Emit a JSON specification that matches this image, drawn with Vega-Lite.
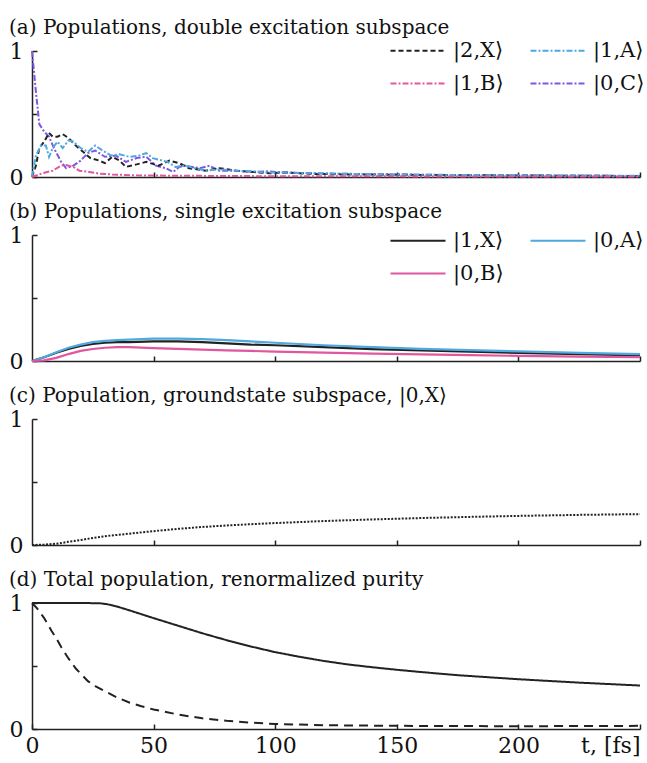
{
  "$schema": "https://vega.github.io/schema/vega-lite/v6.json",
  "padding": {"left": 9, "top": 18, "right": 2, "bottom": 2},
  "background": "white",
  "datasets": {
    "a": [
      {"t": 0, "v": 1.0, "s": "|0,C⟩"}, {"t": 1.6, "v": 0.68, "s": "|0,C⟩"}, {"t": 3, "v": 0.42, "s": "|0,C⟩"}, {"t": 5, "v": 0.36, "s": "|0,C⟩"}, {"t": 7, "v": 0.32, "s": "|0,C⟩"}, {"t": 9, "v": 0.23, "s": "|0,C⟩"}, {"t": 12, "v": 0.12, "s": "|0,C⟩"}, {"t": 14, "v": 0.07, "s": "|0,C⟩"}, {"t": 17, "v": 0.09, "s": "|0,C⟩"}, {"t": 20, "v": 0.13, "s": "|0,C⟩"}, {"t": 23, "v": 0.19, "s": "|0,C⟩"}, {"t": 26, "v": 0.21, "s": "|0,C⟩"}, {"t": 30, "v": 0.16, "s": "|0,C⟩"}, {"t": 34.5, "v": 0.17, "s": "|0,C⟩"}, {"t": 38.6, "v": 0.12, "s": "|0,C⟩"}, {"t": 43, "v": 0.15, "s": "|0,C⟩"}, {"t": 47, "v": 0.16, "s": "|0,C⟩"}, {"t": 51, "v": 0.09, "s": "|0,C⟩"}, {"t": 55, "v": 0.07, "s": "|0,C⟩"}, {"t": 58, "v": 0.04, "s": "|0,C⟩"}, {"t": 60.5, "v": 0.08, "s": "|0,C⟩"}, {"t": 63, "v": 0.09, "s": "|0,C⟩"}, {"t": 69, "v": 0.07, "s": "|0,C⟩"}, {"t": 73, "v": 0.09, "s": "|0,C⟩"}, {"t": 77, "v": 0.05, "s": "|0,C⟩"}, {"t": 84, "v": 0.05, "s": "|0,C⟩"}, {"t": 91, "v": 0.04, "s": "|0,C⟩"}, {"t": 96, "v": 0.045, "s": "|0,C⟩"}, {"t": 105, "v": 0.035, "s": "|0,C⟩"}, {"t": 115, "v": 0.03, "s": "|0,C⟩"}, {"t": 130, "v": 0.025, "s": "|0,C⟩"}, {"t": 150, "v": 0.02, "s": "|0,C⟩"}, {"t": 175, "v": 0.015, "s": "|0,C⟩"}, {"t": 200, "v": 0.012, "s": "|0,C⟩"}, {"t": 225, "v": 0.01, "s": "|0,C⟩"}, {"t": 250, "v": 0.008, "s": "|0,C⟩"},
      {"t": 0, "v": 0, "s": "|2,X⟩"}, {"t": 1.6, "v": 0.09, "s": "|2,X⟩"}, {"t": 3, "v": 0.23, "s": "|2,X⟩"}, {"t": 5, "v": 0.28, "s": "|2,X⟩"}, {"t": 7, "v": 0.35, "s": "|2,X⟩"}, {"t": 8.5, "v": 0.32, "s": "|2,X⟩"}, {"t": 10.5, "v": 0.32, "s": "|2,X⟩"}, {"t": 12.6, "v": 0.34, "s": "|2,X⟩"}, {"t": 15, "v": 0.31, "s": "|2,X⟩"}, {"t": 18, "v": 0.25, "s": "|2,X⟩"}, {"t": 21, "v": 0.2, "s": "|2,X⟩"}, {"t": 24, "v": 0.15, "s": "|2,X⟩"}, {"t": 27.7, "v": 0.13, "s": "|2,X⟩"}, {"t": 30, "v": 0.11, "s": "|2,X⟩"}, {"t": 33, "v": 0.16, "s": "|2,X⟩"}, {"t": 36, "v": 0.13, "s": "|2,X⟩"}, {"t": 38.6, "v": 0.08, "s": "|2,X⟩"}, {"t": 43, "v": 0.1, "s": "|2,X⟩"}, {"t": 47, "v": 0.12, "s": "|2,X⟩"}, {"t": 52, "v": 0.09, "s": "|2,X⟩"}, {"t": 56.5, "v": 0.13, "s": "|2,X⟩"}, {"t": 60.5, "v": 0.11, "s": "|2,X⟩"}, {"t": 64.6, "v": 0.07, "s": "|2,X⟩"}, {"t": 71.5, "v": 0.05, "s": "|2,X⟩"}, {"t": 77, "v": 0.07, "s": "|2,X⟩"}, {"t": 84, "v": 0.05, "s": "|2,X⟩"}, {"t": 91, "v": 0.04, "s": "|2,X⟩"}, {"t": 97.5, "v": 0.03, "s": "|2,X⟩"}, {"t": 105, "v": 0.035, "s": "|2,X⟩"}, {"t": 115, "v": 0.025, "s": "|2,X⟩"}, {"t": 130, "v": 0.02, "s": "|2,X⟩"}, {"t": 150, "v": 0.018, "s": "|2,X⟩"}, {"t": 175, "v": 0.014, "s": "|2,X⟩"}, {"t": 200, "v": 0.012, "s": "|2,X⟩"}, {"t": 225, "v": 0.01, "s": "|2,X⟩"}, {"t": 250, "v": 0.008, "s": "|2,X⟩"},
      {"t": 0, "v": 0, "s": "|1,A⟩"}, {"t": 1.6, "v": 0.17, "s": "|1,A⟩"}, {"t": 3.7, "v": 0.25, "s": "|1,A⟩"}, {"t": 5.7, "v": 0.25, "s": "|1,A⟩"}, {"t": 7, "v": 0.16, "s": "|1,A⟩"}, {"t": 8.5, "v": 0.23, "s": "|1,A⟩"}, {"t": 10.5, "v": 0.28, "s": "|1,A⟩"}, {"t": 12.6, "v": 0.23, "s": "|1,A⟩"}, {"t": 15, "v": 0.29, "s": "|1,A⟩"}, {"t": 17, "v": 0.28, "s": "|1,A⟩"}, {"t": 20, "v": 0.23, "s": "|1,A⟩"}, {"t": 23, "v": 0.2, "s": "|1,A⟩"}, {"t": 26, "v": 0.25, "s": "|1,A⟩"}, {"t": 29, "v": 0.21, "s": "|1,A⟩"}, {"t": 32.5, "v": 0.17, "s": "|1,A⟩"}, {"t": 36, "v": 0.18, "s": "|1,A⟩"}, {"t": 40, "v": 0.16, "s": "|1,A⟩"}, {"t": 44, "v": 0.17, "s": "|1,A⟩"}, {"t": 47, "v": 0.19, "s": "|1,A⟩"}, {"t": 49.6, "v": 0.15, "s": "|1,A⟩"}, {"t": 53.7, "v": 0.13, "s": "|1,A⟩"}, {"t": 55.7, "v": 0.12, "s": "|1,A⟩"}, {"t": 59, "v": 0.08, "s": "|1,A⟩"}, {"t": 63, "v": 0.09, "s": "|1,A⟩"}, {"t": 67, "v": 0.07, "s": "|1,A⟩"}, {"t": 71.5, "v": 0.05, "s": "|1,A⟩"}, {"t": 77, "v": 0.06, "s": "|1,A⟩"}, {"t": 84, "v": 0.05, "s": "|1,A⟩"}, {"t": 91, "v": 0.045, "s": "|1,A⟩"}, {"t": 97.5, "v": 0.035, "s": "|1,A⟩"}, {"t": 105, "v": 0.035, "s": "|1,A⟩"}, {"t": 115, "v": 0.03, "s": "|1,A⟩"}, {"t": 130, "v": 0.025, "s": "|1,A⟩"}, {"t": 150, "v": 0.02, "s": "|1,A⟩"}, {"t": 175, "v": 0.016, "s": "|1,A⟩"}, {"t": 200, "v": 0.013, "s": "|1,A⟩"}, {"t": 225, "v": 0.011, "s": "|1,A⟩"}, {"t": 250, "v": 0.009, "s": "|1,A⟩"},
      {"t": 0, "v": 0, "s": "|1,B⟩"}, {"t": 4.4, "v": 0.03, "s": "|1,B⟩"}, {"t": 8.5, "v": 0.05, "s": "|1,B⟩"}, {"t": 12, "v": 0.09, "s": "|1,B⟩"}, {"t": 14, "v": 0.095, "s": "|1,B⟩"}, {"t": 17, "v": 0.08, "s": "|1,B⟩"}, {"t": 19.5, "v": 0.05, "s": "|1,B⟩"}, {"t": 23.6, "v": 0.04, "s": "|1,B⟩"}, {"t": 27.7, "v": 0.027, "s": "|1,B⟩"}, {"t": 33, "v": 0.02, "s": "|1,B⟩"}, {"t": 43, "v": 0.013, "s": "|1,B⟩"}, {"t": 60, "v": 0.01, "s": "|1,B⟩"}, {"t": 100, "v": 0.006, "s": "|1,B⟩"}, {"t": 150, "v": 0.005, "s": "|1,B⟩"}, {"t": 200, "v": 0.004, "s": "|1,B⟩"}, {"t": 250, "v": 0.004, "s": "|1,B⟩"}
    ],
    "b": [
      {"t": 0, "v": 0, "s": "|1,X⟩"}, {"t": 5, "v": 0.03, "s": "|1,X⟩"}, {"t": 10, "v": 0.065, "s": "|1,X⟩"}, {"t": 15, "v": 0.095, "s": "|1,X⟩"}, {"t": 20, "v": 0.12, "s": "|1,X⟩"}, {"t": 25, "v": 0.135, "s": "|1,X⟩"}, {"t": 30, "v": 0.145, "s": "|1,X⟩"}, {"t": 35, "v": 0.15, "s": "|1,X⟩"}, {"t": 40, "v": 0.15, "s": "|1,X⟩"}, {"t": 50, "v": 0.155, "s": "|1,X⟩"}, {"t": 60, "v": 0.155, "s": "|1,X⟩"}, {"t": 70, "v": 0.15, "s": "|1,X⟩"}, {"t": 80, "v": 0.14, "s": "|1,X⟩"}, {"t": 90, "v": 0.13, "s": "|1,X⟩"}, {"t": 100, "v": 0.125, "s": "|1,X⟩"}, {"t": 120, "v": 0.11, "s": "|1,X⟩"}, {"t": 140, "v": 0.095, "s": "|1,X⟩"}, {"t": 160, "v": 0.085, "s": "|1,X⟩"}, {"t": 180, "v": 0.075, "s": "|1,X⟩"}, {"t": 200, "v": 0.065, "s": "|1,X⟩"}, {"t": 225, "v": 0.055, "s": "|1,X⟩"}, {"t": 250, "v": 0.045, "s": "|1,X⟩"},
      {"t": 0, "v": 0, "s": "|0,A⟩"}, {"t": 5, "v": 0.03, "s": "|0,A⟩"}, {"t": 10, "v": 0.07, "s": "|0,A⟩"}, {"t": 15, "v": 0.105, "s": "|0,A⟩"}, {"t": 20, "v": 0.13, "s": "|0,A⟩"}, {"t": 25, "v": 0.15, "s": "|0,A⟩"}, {"t": 30, "v": 0.16, "s": "|0,A⟩"}, {"t": 35, "v": 0.165, "s": "|0,A⟩"}, {"t": 40, "v": 0.17, "s": "|0,A⟩"}, {"t": 50, "v": 0.178, "s": "|0,A⟩"}, {"t": 60, "v": 0.178, "s": "|0,A⟩"}, {"t": 70, "v": 0.173, "s": "|0,A⟩"}, {"t": 80, "v": 0.165, "s": "|0,A⟩"}, {"t": 90, "v": 0.155, "s": "|0,A⟩"}, {"t": 100, "v": 0.145, "s": "|0,A⟩"}, {"t": 120, "v": 0.125, "s": "|0,A⟩"}, {"t": 140, "v": 0.11, "s": "|0,A⟩"}, {"t": 160, "v": 0.097, "s": "|0,A⟩"}, {"t": 180, "v": 0.086, "s": "|0,A⟩"}, {"t": 200, "v": 0.076, "s": "|0,A⟩"}, {"t": 225, "v": 0.065, "s": "|0,A⟩"}, {"t": 250, "v": 0.055, "s": "|0,A⟩"},
      {"t": 0, "v": 0, "s": "|0,B⟩"}, {"t": 5, "v": 0.005, "s": "|0,B⟩"}, {"t": 10, "v": 0.025, "s": "|0,B⟩"}, {"t": 15, "v": 0.055, "s": "|0,B⟩"}, {"t": 20, "v": 0.08, "s": "|0,B⟩"}, {"t": 25, "v": 0.095, "s": "|0,B⟩"}, {"t": 30, "v": 0.105, "s": "|0,B⟩"}, {"t": 35, "v": 0.11, "s": "|0,B⟩"}, {"t": 40, "v": 0.11, "s": "|0,B⟩"}, {"t": 50, "v": 0.102, "s": "|0,B⟩"}, {"t": 60, "v": 0.096, "s": "|0,B⟩"}, {"t": 70, "v": 0.09, "s": "|0,B⟩"}, {"t": 80, "v": 0.085, "s": "|0,B⟩"}, {"t": 90, "v": 0.08, "s": "|0,B⟩"}, {"t": 100, "v": 0.075, "s": "|0,B⟩"}, {"t": 120, "v": 0.066, "s": "|0,B⟩"}, {"t": 140, "v": 0.059, "s": "|0,B⟩"}, {"t": 160, "v": 0.052, "s": "|0,B⟩"}, {"t": 180, "v": 0.046, "s": "|0,B⟩"}, {"t": 200, "v": 0.041, "s": "|0,B⟩"}, {"t": 225, "v": 0.035, "s": "|0,B⟩"}, {"t": 250, "v": 0.03, "s": "|0,B⟩"}
    ],
    "c": [
      {"t": 0, "v": 0}, {"t": 5, "v": 0.003}, {"t": 10, "v": 0.01}, {"t": 15, "v": 0.025}, {"t": 20, "v": 0.04}, {"t": 25, "v": 0.055}, {"t": 30, "v": 0.07}, {"t": 40, "v": 0.09}, {"t": 50, "v": 0.11}, {"t": 60, "v": 0.128}, {"t": 70, "v": 0.143}, {"t": 80, "v": 0.155}, {"t": 90, "v": 0.165}, {"t": 100, "v": 0.174}, {"t": 120, "v": 0.19}, {"t": 140, "v": 0.203}, {"t": 160, "v": 0.214}, {"t": 180, "v": 0.223}, {"t": 200, "v": 0.231}, {"t": 225, "v": 0.239}, {"t": 250, "v": 0.245}
    ],
    "d": [
      {"t": 0, "v": 1, "s": "total"}, {"t": 10, "v": 1, "s": "total"}, {"t": 20, "v": 1, "s": "total"}, {"t": 28, "v": 0.998, "s": "total"}, {"t": 31, "v": 0.99, "s": "total"}, {"t": 35, "v": 0.972, "s": "total"}, {"t": 40, "v": 0.942, "s": "total"}, {"t": 50, "v": 0.88, "s": "total"}, {"t": 60, "v": 0.82, "s": "total"}, {"t": 70, "v": 0.76, "s": "total"}, {"t": 80, "v": 0.705, "s": "total"}, {"t": 90, "v": 0.655, "s": "total"}, {"t": 100, "v": 0.61, "s": "total"}, {"t": 110, "v": 0.573, "s": "total"}, {"t": 120, "v": 0.54, "s": "total"}, {"t": 130, "v": 0.512, "s": "total"}, {"t": 140, "v": 0.49, "s": "total"}, {"t": 150, "v": 0.47, "s": "total"}, {"t": 160, "v": 0.452, "s": "total"}, {"t": 175, "v": 0.427, "s": "total"}, {"t": 200, "v": 0.395, "s": "total"}, {"t": 225, "v": 0.368, "s": "total"}, {"t": 250, "v": 0.345, "s": "total"},
      {"t": 0, "v": 1, "s": "purity"}, {"t": 2, "v": 0.96, "s": "purity"}, {"t": 5, "v": 0.88, "s": "purity"}, {"t": 8, "v": 0.78, "s": "purity"}, {"t": 10, "v": 0.72, "s": "purity"}, {"t": 12, "v": 0.65, "s": "purity"}, {"t": 15, "v": 0.56, "s": "purity"}, {"t": 18, "v": 0.48, "s": "purity"}, {"t": 20, "v": 0.44, "s": "purity"}, {"t": 23, "v": 0.38, "s": "purity"}, {"t": 26, "v": 0.34, "s": "purity"}, {"t": 30, "v": 0.3, "s": "purity"}, {"t": 35, "v": 0.25, "s": "purity"}, {"t": 40, "v": 0.21, "s": "purity"}, {"t": 45, "v": 0.18, "s": "purity"}, {"t": 50, "v": 0.155, "s": "purity"}, {"t": 60, "v": 0.115, "s": "purity"}, {"t": 70, "v": 0.085, "s": "purity"}, {"t": 80, "v": 0.065, "s": "purity"}, {"t": 90, "v": 0.05, "s": "purity"}, {"t": 100, "v": 0.04, "s": "purity"}, {"t": 120, "v": 0.03, "s": "purity"}, {"t": 150, "v": 0.025, "s": "purity"}, {"t": 200, "v": 0.022, "s": "purity"}, {"t": 250, "v": 0.025, "s": "purity"}
    ]
  },
  "spacing": 14,
  "vconcat": [
    {
      "width": 608, "height": 126,
      "title": "(a) Populations, double excitation subspace",
      "data": {"name": "a"},
      "mark": {"type": "line", "strokeWidth": 2},
      "encoding": {
        "x": {"field": "t", "type": "quantitative", "scale": {"domain": [0, 250], "nice": false}, "axis": {"labels": false, "values": [50, 100, 150, 200, 250]}, "title": null},
        "y": {"field": "v", "type": "quantitative", "scale": {"domain": [0, 1], "nice": false}, "axis": {"values": [0, 0.5, 1], "labelExpr": "datum.value == 0 ? '0' : datum.value == 1 ? '1' : ''"}, "title": null},
        "color": {"field": "s", "type": "nominal", "scale": {"domain": ["|2,X⟩", "|1,B⟩", "|1,A⟩", "|0,C⟩"], "range": ["#222222", "#e0569f", "#4fa9de", "#7c58e4"]}, "legend": {"title": null, "orient": "none", "legendX": 398, "legendY": -11, "columns": 2}},
        "strokeDash": {"field": "s", "type": "nominal", "scale": {"domain": ["|2,X⟩", "|1,B⟩", "|1,A⟩", "|0,C⟩"], "range": [[5, 3], [6, 2, 2, 2], [6, 2, 2, 2], [6, 2, 2, 2]]}, "legend": {"title": null, "orient": "none", "legendX": 398, "legendY": -11, "columns": 2}}
      }
    },
    {
      "width": 608, "height": 126,
      "title": "(b) Populations, single excitation subspace",
      "data": {"name": "b"},
      "mark": {"type": "line", "strokeWidth": 2.2},
      "encoding": {
        "x": {"field": "t", "type": "quantitative", "scale": {"domain": [0, 250], "nice": false}, "axis": {"labels": false, "values": [50, 100, 150, 200, 250]}, "title": null},
        "y": {"field": "v", "type": "quantitative", "scale": {"domain": [0, 1], "nice": false}, "axis": {"values": [0, 0.5, 1], "labelExpr": "datum.value == 0 ? '0' : datum.value == 1 ? '1' : ''"}, "title": null},
        "color": {"field": "s", "type": "nominal", "scale": {"domain": ["|1,X⟩", "|0,B⟩", "|0,A⟩"], "range": ["#222222", "#e0569f", "#4fa9de"]}, "legend": {"title": null, "orient": "none", "legendX": 398, "legendY": -5, "columns": 2}}
      }
    },
    {
      "width": 608, "height": 126,
      "title": "(c) Population, groundstate subspace, |0,X⟩",
      "data": {"name": "c"},
      "mark": {"type": "line", "strokeWidth": 2, "strokeDash": [2, 1.5], "color": "#222222"},
      "encoding": {
        "x": {"field": "t", "type": "quantitative", "scale": {"domain": [0, 250], "nice": false}, "axis": {"labels": false, "values": [50, 100, 150, 200, 250]}, "title": null},
        "y": {"field": "v", "type": "quantitative", "scale": {"domain": [0, 1], "nice": false}, "axis": {"values": [0, 0.5, 1], "labelExpr": "datum.value == 0 ? '0' : datum.value == 1 ? '1' : ''"}, "title": null}
      }
    },
    {
      "width": 608, "height": 126,
      "title": "(d) Total population, renormalized purity",
      "data": {"name": "d"},
      "mark": {"type": "line", "strokeWidth": 2, "color": "#222222"},
      "encoding": {
        "x": {"field": "t", "type": "quantitative", "scale": {"domain": [0, 250], "nice": false}, "axis": {"values": [0, 50, 100, 150, 200, 250], "labelExpr": "datum.value == 250 ? 't, [fs]' : datum.label", "labelAlign": {"condition": {"test": "datum.value == 250", "value": "right"}, "value": "center"}, "labelPadding": 11}, "title": null},
        "y": {"field": "v", "type": "quantitative", "scale": {"domain": [0, 1], "nice": false}, "axis": {"values": [0, 0.5, 1], "labelExpr": "datum.value == 0 ? '0' : datum.value == 1 ? '1' : ''"}, "title": null},
        "strokeDash": {"field": "s", "type": "nominal", "scale": {"domain": ["total", "purity"], "range": [[1, 0], [9, 6]]}, "legend": null}
      }
    }
  ],
  "resolve": {"scale": {"color": "independent", "strokeDash": "independent"}, "legend": {"color": "independent", "strokeDash": "independent"}},
  "config": {
    "font": "DejaVu Serif",
    "view": {"stroke": null},
    "title": {"anchor": "start", "frame": "bounds", "fontSize": 20, "fontWeight": "normal", "color": "#111111", "offset": 2, "font": "DejaVu Serif"},
    "axis": {"grid": false, "domainColor": "#222222", "domainWidth": 1.5, "tickColor": "#222222", "tickWidth": 1.5, "tickSize": -5, "labelFontSize": 22, "labelColor": "#111111", "labelFont": "DejaVu Serif"},
    "axisY": {"labelPadding": 14},
    "legend": {"symbolType": "M-10,0H1", "symbolSize": 100, "symbolStrokeWidth": 2, "labelFontSize": 21, "labelFont": "DejaVu Serif", "labelColor": "#111111", "columnPadding": 22, "rowPadding": 11, "labelOffset": 2, "padding": 0}
  }
}
